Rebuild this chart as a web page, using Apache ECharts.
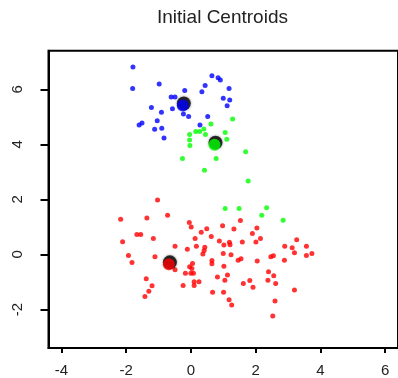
<!DOCTYPE html>
<html>
<head>
<meta charset="utf-8">
<script src="https://cdn.jsdelivr.net/npm/echarts@6/dist/echarts.min.js"></script>
<style>
  html, body { margin: 0; padding: 0; background: #fff; }
  #chart { width: 398px; height: 378px; }
</style>
</head>
<body>
<div id="chart"></div>
<script>
// Cluster members as [x, y]
const clusterBlue = [
  [-1.79, 6.81], [-1.80, 6.03], [-0.98, 6.19], [-1.22, 5.34], [-0.91, 5.17],
  [-0.57, 5.29], [-0.61, 5.72], [-0.49, 5.72], [-0.19, 5.96], [-0.23, 5.10],
  [-0.07, 5.01], [0.52, 5.01], [0.34, 5.91], [0.44, 6.14], [0.65, 6.49],
  [0.84, 6.42], [0.91, 6.34], [1.18, 6.03], [1.00, 5.68], [1.20, 5.61],
  [1.12, 5.40], [-1.51, 4.78], [-1.60, 4.70], [-1.04, 4.86], [-1.12, 4.55],
  [-0.90, 4.59], [-0.83, 4.23], [0.28, 4.70]
];

const clusterGreen = [
  [1.29, 4.92], [0.62, 4.74], [0.40, 4.56], [0.27, 4.47], [0.15, 4.47],
  [-0.04, 4.36], [0.45, 4.36], [1.06, 4.43], [1.11, 4.19], [-0.04, 4.16],
  [-0.03, 3.96], [1.69, 3.73], [-0.26, 3.49], [0.78, 3.49], [0.42, 3.06],
  [1.77, 2.67], [1.06, 1.67], [1.49, 1.67], [2.34, 1.70], [2.19, 1.42],
  [2.85, 1.24]
];

const clusterRed = [
  [-1.03, 1.98], [-2.17, 1.28], [-1.36, 1.32], [-0.72, 1.42], [-1.67, 0.72],
  [-1.55, 0.72], [-2.11, 0.46], [-1.16, 0.58], [-0.05, 1.16], [0.01, 1.00],
  [0.49, 0.93], [0.32, 0.81], [0.13, 0.58], [0.63, 0.65], [-0.49, 0.30],
  [-0.11, 0.19], [0.17, 0.30], [0.43, 0.26], [0.41, 0.14], [0.37, 0.02],
  [-1.93, -0.04], [-1.82, -0.29], [-1.11, -0.08], [-0.49, -0.56], [0.05, -0.33],
  [-0.04, -0.45], [0.03, -0.51], [-0.17, -0.68], [0.00, -0.68], [0.08, -0.68],
  [0.10, -0.99], [0.25, -0.99], [-0.24, -1.13], [0.10, -1.13], [-1.38, -0.88],
  [-1.20, -1.14], [-1.30, -1.34], [-1.42, -1.53], [0.67, -1.37], [0.82, -0.82],
  [0.65, -0.22], [0.65, -0.34],
  [1.53, 1.23], [0.98, 1.04], [1.33, 0.92], [2.04, 0.96], [1.90, 0.76],
  [2.15, 0.58], [2.01, 0.45], [3.27, 0.53], [0.88, 0.49], [1.02, 0.34],
  [1.19, 0.44], [1.21, 0.35], [1.59, 0.45], [2.90, 0.30], [3.13, 0.24],
  [3.20, 0.06], [3.57, 0.30], [3.74, 0.03], [3.57, -0.04], [2.55, -0.05],
  [2.47, -0.08], [2.89, -0.21], [1.00, 0.03], [1.24, -0.01], [1.55, -0.16],
  [1.46, -0.21], [1.02, -0.43], [2.05, -0.24], [1.13, -0.75], [1.05, -0.94],
  [2.40, -0.63], [2.56, -0.77], [2.38, -0.94], [2.62, -1.06], [1.82, -0.95],
  [1.62, -1.06], [1.92, -1.19], [1.01, -1.37], [1.18, -1.65], [1.26, -1.84],
  [3.20, -1.29], [2.60, -1.69], [2.53, -2.24]
];

// Starting centroids, one per cluster
const centroidBlue = [-0.25, 5.41];
const centroidGreen = [0.73, 3.99];
const centroidRed = [-0.68, -0.36];

// Tick labels
const xTicks = [-4, -2, 0, 2, 4, 6];
const yTicks = [-2, 0, 2, 4, 6];

const FONT = '"Liberation Sans", Arial, Helvetica, sans-serif';

function dots(data, color) {
  return {
    type: 'scatter', data: data, symbol: 'circle', symbolSize: 5,
    itemStyle: { color: color }, z: 2, silent: true
  };
}

function centroidShadow(pt) {
  return {
    type: 'scatter', data: [pt], symbol: 'circle', symbolSize: 14,
    symbolOffset: [1, -2],
    itemStyle: { color: '#000', shadowBlur: 3, shadowColor: 'rgba(0,0,0,0.45)' },
    z: 3, silent: true
  };
}

function centroidFill(pt, color) {
  return {
    type: 'scatter', data: [pt], symbol: 'circle', symbolSize: 12,
    itemStyle: { color: color }, z: 4, silent: true
  };
}

const chart = echarts.init(document.getElementById('chart'), null, { renderer: 'canvas' });

chart.setOption({
  animation: false,
  backgroundColor: '#fff',
  title: {
    text: 'Initial Centroids',
    left: 157, top: 8, padding: 0,
    textStyle: { fontFamily: FONT, fontSize: 19, fontWeight: 'normal', color: '#222' }
  },
  grid: {
    left: 48.5, top: 50.8, width: 353.2, height: 298,
    show: true, borderColor: '#000', borderWidth: 2, backgroundColor: 'transparent'
  },
  xAxis: {
    type: 'value', min: -4.4, max: 6.4,
    axisLine: { show: true, onZero: false, lineStyle: { color: '#000', width: 2 } },
    axisTick: { show: true, length: 5, customValues: xTicks, lineStyle: { color: '#000', width: 2 } },
    axisLabel: {
      customValues: xTicks, margin: 15, fontFamily: FONT, fontSize: 15, color: '#222'
    },
    splitLine: { show: false }
  },
  yAxis: {
    type: 'value', min: -3.4, max: 7.4,
    axisLine: { show: true, onZero: false, lineStyle: { color: '#000', width: 2 } },
    axisTick: { show: true, length: 8, customValues: yTicks, lineStyle: { color: '#000', width: 2 } },
    axisLabel: {
      customValues: yTicks, rotate: 90, margin: 23, fontFamily: FONT, fontSize: 15, color: '#222'
    },
    splitLine: { show: false }
  },
  series: [
    dots(clusterBlue, '#0000ff'),
    dots(clusterGreen, '#00ff00'),
    dots(clusterRed, '#ff0000'),
    centroidShadow(centroidBlue),
    centroidShadow(centroidGreen),
    centroidShadow(centroidRed),
    centroidFill(centroidBlue, '#0000ff'),
    centroidFill(centroidGreen, '#00ff00'),
    centroidFill(centroidRed, '#ff0000')
  ]
});
</script>
</body>
</html>
